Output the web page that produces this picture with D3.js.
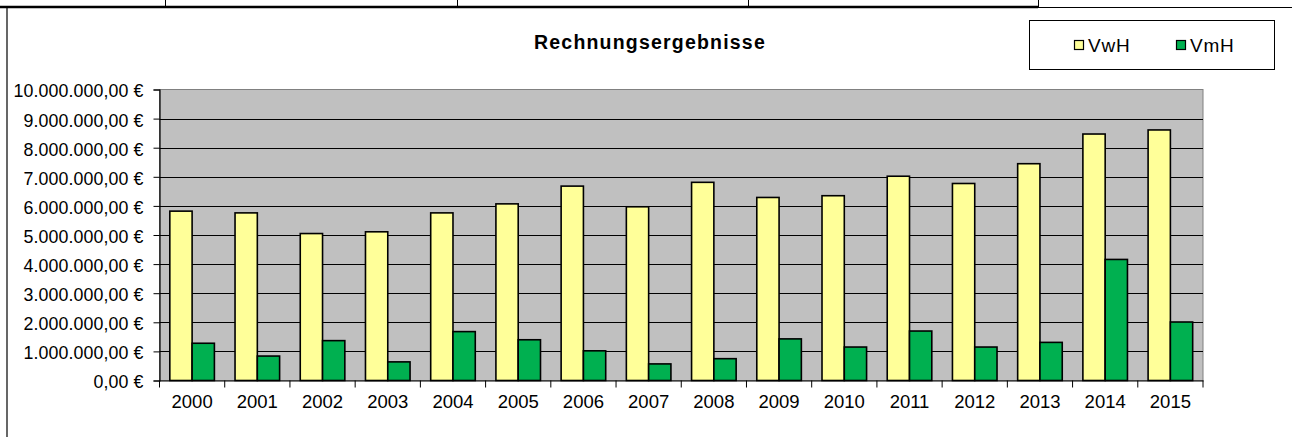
<!DOCTYPE html>
<html>
<head>
<meta charset="utf-8">
<script src="https://cdn.jsdelivr.net/npm/d3@7"></script>
<style>
  html, body { margin: 0; padding: 0; background: #fff; }
  svg { display: block; }
  text { font-family: "Liberation Sans", Arial, sans-serif; fill: #000; }
</style>
</head>
<body>
<div id="chart"></div>
<script>
// ---- data ----
const years = ["2000","2001","2002","2003","2004","2005","2006","2007","2008","2009","2010","2011","2012","2013","2014","2015"];
const seriesNames = ["VwH", "VmH"];
const vwh = [5820000, 5760000, 5050000, 5110000, 5760000, 6070000, 6680000, 5970000, 6810000, 6290000, 6350000, 7020000, 6770000, 7450000, 8470000, 8610000];
const vmh = [1280000, 840000, 1370000, 640000, 1680000, 1400000, 1020000, 570000, 750000, 1430000, 1150000, 1700000, 1150000, 1310000, 4160000, 2010000];
const yTicks = [0, 1000000, 2000000, 3000000, 4000000, 5000000, 6000000, 7000000, 8000000, 9000000, 10000000];
const title = "Rechnungsergebnisse";
const colors = ["#FFFF99", "#00B050"];

const W = 1292, H = 437;
const plot = { left: 159.5, right: 1203, top: 89.5, bottom: 380.5 };

const svg = d3.select("#chart").append("svg").attr("width", W).attr("height", H);

// outer table row / chart frame
const frame = svg.append("g");
frame.append("line").attr("x1", 0).attr("x2", 1038).attr("y1", 7).attr("y2", 7).attr("stroke", "#000").attr("stroke-width", 2.5);
frame.append("line").attr("x1", 1038).attr("x2", W).attr("y1", 7.5).attr("y2", 7.5).attr("stroke", "#000").attr("stroke-width", 1);
[165, 457, 748, 1038].forEach(x => {
  frame.append("line").attr("x1", x + 0.5).attr("x2", x + 0.5).attr("y1", 0).attr("y2", 7).attr("stroke", "#000").attr("stroke-width", 1);
});
frame.append("line").attr("x1", 7).attr("x2", 7).attr("y1", 7).attr("y2", H).attr("stroke", "#000").attr("stroke-width", 1.2);

// scales
const x = d3.scaleBand().domain(years).range([plot.left, plot.right]).paddingInner(0).paddingOuter(0);
const xs = d3.scaleBand().domain(seriesNames).range([0, x.bandwidth()]).paddingInner(0).paddingOuter(0.463);
const y = d3.scaleLinear().domain([0, 10000000]).range([plot.bottom, plot.top]);

const de = d3.formatLocale({ decimal: ",", thousands: ".", grouping: [3], currency: ["", " €"] });
const fmt = de.format("$,.2f");

// plot background
svg.append("rect").attr("x", plot.left).attr("y", plot.top)
  .attr("width", plot.right - plot.left).attr("height", plot.bottom - plot.top)
  .attr("fill", "#C0C0C0").attr("stroke", "#808080").attr("stroke-width", 1);

// gridlines
svg.append("g").selectAll("line").data(yTicks.filter(d => d > 0 && d < 10000000)).join("line")
  .attr("x1", plot.left).attr("x2", plot.right)
  .attr("y1", d => Math.round(y(d)) + 0.5).attr("y2", d => Math.round(y(d)) + 0.5)
  .attr("stroke", "#000").attr("stroke-width", 1);

// bars
const data = years.map((yr, i) => ({ year: yr, values: [vwh[i], vmh[i]] }));
const groups = svg.append("g").selectAll("g").data(data).join("g")
  .attr("transform", d => `translate(${x(d.year)},0)`);
groups.selectAll("rect").data(d => d.values.map((v, j) => ({ key: seriesNames[j], v, j }))).join("rect")
  .attr("x", d => xs(d.key))
  .attr("y", d => y(d.v))
  .attr("width", xs.bandwidth())
  .attr("height", d => y(0) - y(d.v))
  .attr("fill", d => colors[d.j])
  .attr("stroke", "#000").attr("stroke-width", 1.6);

// y axis
const yAxis = d3.axisLeft(y).tickValues(yTicks).tickFormat(fmt).tickSize(6).tickPadding(10);
const gy = svg.append("g").attr("transform", `translate(${plot.left},0)`).call(yAxis);
gy.select(".domain").attr("stroke", "#000").attr("stroke-width", 1.2);
gy.selectAll(".tick line").attr("stroke", "#000");
gy.selectAll(".tick text").attr("font-size", "17.8px").attr("font-family", "Liberation Sans, Arial, sans-serif")
  .attr("fill", "#000").attr("dy", "0.42em").style("letter-spacing", "0.1px");

// x axis
const xAxis = d3.axisBottom(x).tickSize(0).tickPadding(0);
const gx = svg.append("g").attr("transform", `translate(0,${plot.bottom})`).call(xAxis);
gx.select(".domain").attr("stroke", "#000").attr("stroke-width", 1.2);
gx.selectAll(".tick text").attr("font-size", "18.5px").attr("font-family", "Liberation Sans, Arial, sans-serif")
  .attr("fill", "#000").attr("y", 27.8).attr("dy", 0);
// category boundary ticks
svg.append("g").selectAll("line").data(years.concat(["end"])).join("line")
  .attr("x1", d => d === "end" ? plot.right : x(d)).attr("x2", d => d === "end" ? plot.right : x(d))
  .attr("y1", plot.bottom).attr("y2", plot.bottom + 7)
  .attr("stroke", "#000").attr("stroke-width", 1);

// title
svg.append("text").attr("x", 650).attr("y", 48.5).attr("text-anchor", "middle")
  .attr("font-size", "19.5px").attr("font-weight", "bold").style("letter-spacing", "1.2px").text(title);

// legend
const lg = svg.append("g");
lg.append("rect").attr("x", 1029.5).attr("y", 20.5).attr("width", 245).attr("height", 49)
  .attr("fill", "#fff").attr("stroke", "#000").attr("stroke-width", 1);
const lx = [1074, 1176];
seriesNames.forEach((s, i) => {
  lg.append("rect").attr("x", lx[i] + 0.5).attr("y", 40.5).attr("width", 9).attr("height", 9)
    .attr("fill", colors[i]).attr("stroke", "#000").attr("stroke-width", 1.2);
  lg.append("text").attr("x", lx[i] + 14).attr("y", 52).attr("font-size", "19px")
    .style("letter-spacing", "0.8px").text(s);
});
</script>
</body>
</html>
